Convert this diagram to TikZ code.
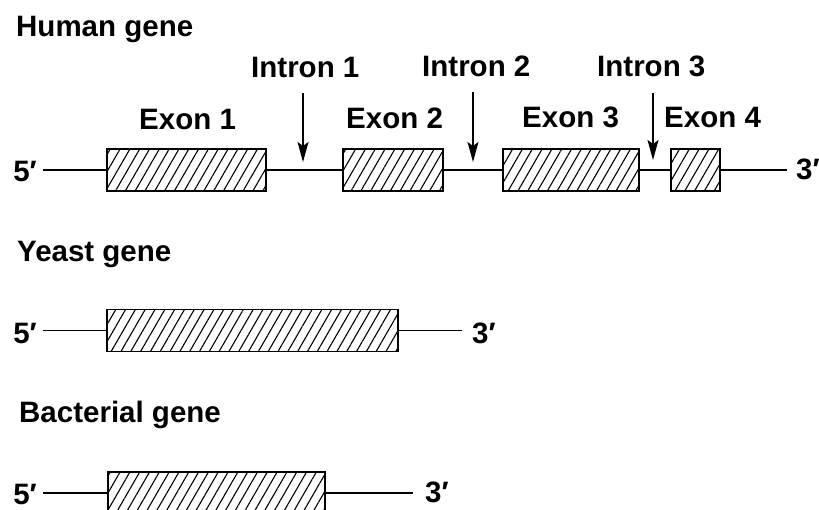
\documentclass[tikz,border=0pt]{standalone}
\usepackage{fontspec}
\setmainfont{Liberation Sans}
\usetikzlibrary{patterns.meta,arrows.meta,calc}
\begin{document}
\begin{tikzpicture}[x=1pt,y=-1pt,
  exon/.style={draw, line width=1.8pt, inner sep=0pt, outer sep=0pt, minimum height=42pt,
    pattern={Lines[angle=60,distance=8.5pt,line width=1.1pt]}},
  lbl/.style={anchor=base west, inner sep=0pt, font=\fontsize{29.5}{34}\selectfont\bfseries},
  endlbl/.style={inner sep=0pt, font=\fontsize{29.5}{34}\selectfont\bfseries},
  strand/.style={line width=1.4pt},
  pointer/.style={line width=1.4pt, -{Stealth[length=20pt,width=11pt,inset=4pt]}}]
\clip (0,0) rectangle (819,510);
% ---------- Human gene ----------
\node[lbl] (ht) at (16,37) {Human gene};
\node[lbl] (in1) at (251,78) {Intron 1};
\node[lbl] (in2) at (422,77) {Intron 2};
\node[lbl] (in3) at (597,77) {Intron 3};
\node[lbl] (ex1) at (139,130) {Exon 1};
\node[lbl] (ex2) at (346,129) {Exon 2};
\node[lbl] (ex3) at (522,128) {Exon 3};
\node[lbl] (ex4) at (664,128) {Exon 4};
\node[exon, minimum width=159pt] (h1) at (186.5,170) {};
\node[exon, minimum width=100pt] (h2) at (393,170) {};
\node[exon, minimum width=136pt] (h3) at (571,170) {};
\node[exon, minimum width=49pt] (h4) at (695.5,170) {};
\node[endlbl, anchor=east] (h5p) at (37,171) {5′};
\node[endlbl, anchor=west] (h3p) at (796,169) {3′};
\draw[strand] ([xshift=6pt]h5p.east |- h1.west) -- (h1.west);
\draw[strand] (h1.east) -- (h2.west);
\draw[strand] (h2.east) -- (h3.west);
\draw[strand] (h3.east) -- (h4.west);
\draw[strand] (h4.east) -- ($(h3p.west |- h4.east)+(-9,0)$);
\coordinate (i1) at (303,170);
\coordinate (i2) at (473,170);
\coordinate (i3) at (653,170);
\draw[pointer] ($(i1 |- in1.south)+(0,15)$) -- ($(i1)+(0,-8)$);
\draw[pointer] ($(i2 |- in2.south)+(0,15)$) -- ($(i2)+(0,-8)$);
\draw[pointer] ($(i3 |- in3.south)+(0,15)$) -- ($(i3)+(0,-10)$);
% ---------- Yeast gene ----------
\node[lbl] (yt) at (17,262) {Yeast gene};
\node[exon, minimum width=291pt] (y1) at (252.5,330.5) {};
\node[endlbl, anchor=east] (y5p) at (37,333) {5′};
\node[endlbl, anchor=west] (y3p) at (472,333) {3′};
\draw[strand] ($(y5p.east |- y1.west)+(6,0)$) -- (y1.west);
\draw[strand] (y1.east) -- ($(y3p.west |- y1.east)+(-10,0)$);
% ---------- Bacterial gene ----------
\node[lbl] (bt) at (19,422) {Bacterial gene};
\node[exon, minimum width=217pt] (b1) at (216.5,493) {};
\node[endlbl, anchor=east] (b5p) at (37,494) {5′};
\node[endlbl, anchor=west] (b3p) at (425,492) {3′};
\draw[strand] ($(b5p.east |- b1.west)+(6,0)$) -- (b1.west);
\draw[strand] (b1.east) -- ($(b3p.west |- b1.east)+(-12,0)$);
\end{tikzpicture}
\end{document}
